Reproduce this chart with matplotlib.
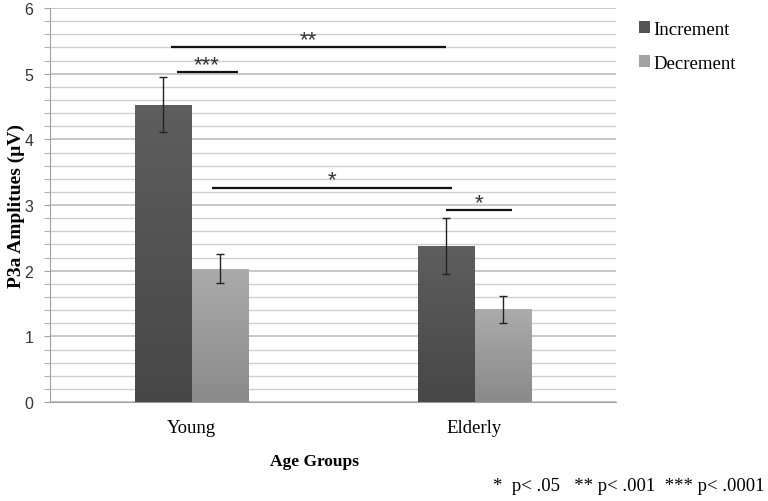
import numpy as np
import matplotlib
matplotlib.use("Agg")
import matplotlib.pyplot as plt
from matplotlib.ticker import MultipleLocator
from matplotlib.colors import LinearSegmentedColormap

groups = ["Young", "Elderly"]
increment = [4.53, 2.38]
increment_err = [0.42, 0.43]
decrement = [2.03, 1.41]
decrement_err = [0.22, 0.21]

# significance brackets: (x start, x end, y, label)
sig_lines = [
    (-0.074, 0.898, 5.40, "**"),
    (-0.053, 0.163, 5.02, "***"),
    (0.071, 0.919, 3.26, "*"),
    (0.901, 1.134, 2.92, "*"),
]

serif = "Liberation Serif"
sans = "Liberation Sans"

fig = plt.figure(figsize=(7.68, 5.02), dpi=100)
ax = fig.add_axes([0.0651, 0.197, 0.737, 0.785])

x = np.arange(len(groups))
w = 0.2
ekw = dict(ecolor="#222222", elinewidth=1, capsize=3, capthick=1, zorder=5)
b1 = ax.bar(x - w / 2, increment, w, color="#555555", yerr=increment_err,
            error_kw=ekw, label="Increment", zorder=3)
b2 = ax.bar(x + w / 2, decrement, w, color="#a3a3a3", yerr=decrement_err,
            error_kw=ekw, label="Decrement", zorder=3)

# soft vertical gradient like the original spreadsheet bars
grad = np.linspace(1, 0, 100).reshape(-1, 1)
for bars, (top, bot) in [(b1, ("#5e5e5e", "#474747")), (b2, ("#ababab", "#8a8a8a"))]:
    cmap = LinearSegmentedColormap.from_list("g", [bot, top])
    for p in bars:
        x0, y0 = p.get_x(), p.get_y()
        im = ax.imshow(grad, cmap=cmap, aspect="auto", zorder=3.5,
                       extent=[x0, x0 + p.get_width(), y0, y0 + p.get_height()])
        im.set_clip_path(p)

for x0, x1, y, lab in sig_lines:
    ax.plot([x0, x1], [y, y], color="#111111", lw=1.6, zorder=4, solid_capstyle="butt")
    ax.text((x0 + x1) / 2, y + 0.04, lab, ha="center", va="baseline",
            fontsize=16, family=sans, color="#333333")

ax.set_xlim(-0.5, 1.5)
ax.set_ylim(0, 6)
ax.yaxis.set_major_locator(MultipleLocator(1))
ax.yaxis.set_minor_locator(MultipleLocator(0.2))
ax.grid(which="major", axis="y", color="#bdbdbd", lw=1.2, zorder=0)
ax.grid(which="minor", axis="y", color="#cfcfcf", lw=1.0, zorder=0)
ax.set_axisbelow(True)

for s in ["top", "right"]:
    ax.spines[s].set_visible(False)
ax.spines["left"].set_color("#a0a0a0")
ax.spines["bottom"].set_color("#a0a0a0")
ax.tick_params(axis="y", which="both", length=4, color="#a0a0a0", pad=8, labelsize=11.5,
               labelcolor="#333333")
ax.tick_params(axis="x", length=0, pad=12)
for t in ax.get_yticklabels():
    t.set_family(sans)

ax.set_xticks(x)
ax.set_xticklabels(groups, fontsize=13.5, family=serif)

ax.set_xlabel("Age Groups", fontsize=12.5, family=serif, fontweight="bold", labelpad=14)
ax.xaxis.set_label_coords(0.468, -0.13)
fig.text(0.021, 0.59, "P3a Amplitues (\u03bcV)", rotation=90, ha="center", va="center",
         fontsize=14, family=serif, fontweight="bold")

leg = ax.legend(loc="upper left", bbox_to_anchor=(1.01, 1.01), frameon=False,
                prop={"family": serif, "size": 13.5}, handlelength=0.6,
                handleheight=0.6, handletextpad=0.2, labelspacing=0.9)

fig.text(0.996, 0.03, "*  p< .05   ** p< .001  *** p< .0001", ha="right", va="center",
         fontsize=13.5, family=serif)

fig.savefig("out.png", dpi=100)
